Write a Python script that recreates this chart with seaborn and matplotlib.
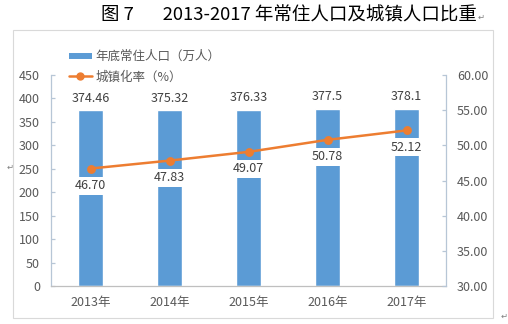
import numpy as np
import pandas as pd
import matplotlib
matplotlib.use('Agg')
import matplotlib.pyplot as plt
import seaborn as sns
from matplotlib.lines import Line2D
from matplotlib.patches import Rectangle

# ---- data ----
years = ['2013年', '2014年', '2015年', '2016年', '2017年']
population = [374.46, 375.32, 376.33, 377.5, 378.1]
pop_labels = ['374.46', '375.32', '376.33', '377.5', '378.1']
urban_rate = [46.70, 47.83, 49.07, 50.78, 52.12]
rate_labels = ['46.70', '47.83', '49.07', '50.78', '52.12']
left_ticks = [0, 50, 100, 150, 200, 250, 300, 350, 400, 450]
right_ticks = [30, 35, 40, 45, 50, 55, 60]
right_tick_labels = ['30.00', '35.00', '40.00', '45.00', '50.00', '55.00', '60.00']
title = '图 7       2013-2017 年常住人口及城镇人口比重'
legend_labels = ['年底常住人口（万人）', '城镇化率（%）']

BLUE = '#5B9BD5'
ORANGE = '#ED7D31'
SPINE = '#B7C6D6'
TXT = '#595959'

sns.set_theme(style='white')
plt.rcParams['font.family'] = ['Noto Sans CJK SC', 'DejaVu Sans']

W, H = 508, 324
fig = plt.figure(figsize=(W / 100, H / 100), dpi=100)
fig.patch.set_facecolor('white')

ax = fig.add_axes([51 / W, 1 - 286 / H, (446 - 51) / W, (286 - 75) / H])
df = pd.DataFrame({'year': years, 'pop': population, 'rate': urban_rate})
sns.barplot(data=df, x='year', y='pop', ax=ax, color=BLUE, width=0.32,
            saturation=1, errorbar=None, zorder=2)
ax.set_ylim(0, 450)
ax.set_yticks(left_ticks)
ax.set_xlabel('')
ax.set_ylabel('')

ax2 = ax.twinx()
sns.pointplot(data=df, x='year', y='rate', ax=ax2, color=ORANGE, markers='o',
              markersize=5, linewidth=1.8, errorbar=None)
ax2.set_ylim(30, 60)
ax2.set_yticks(right_ticks)
ax2.set_yticklabels(right_tick_labels)
ax2.set_xlabel('')
ax2.set_ylabel('')
ax2.set_xlim(-0.5, 4.5)
ax.set_xlim(-0.5, 4.5)

for a in (ax, ax2):
    a.spines['top'].set_visible(False)
    a.grid(False)
ax.spines['right'].set_visible(False)
ax.spines['left'].set_color(SPINE)
ax.spines['bottom'].set_color('#BFBFBF')
ax.spines['left'].set_linewidth(0.9)
ax.spines['bottom'].set_linewidth(0.9)
ax2.spines['left'].set_visible(False)
ax2.spines['bottom'].set_visible(False)
ax2.spines['right'].set_color(SPINE)
ax2.spines['right'].set_linewidth(0.9)

ax.tick_params(axis='y', direction='in', length=3, width=0.9, color=SPINE,
               pad=8, labelsize=9, labelcolor=TXT, left=True)
ax.tick_params(axis='x', length=0, pad=7, labelsize=9, labelcolor=TXT)
ax2.tick_params(axis='y', direction='in', length=3, width=0.9, color=SPINE,
                pad=8, labelsize=9, labelcolor=TXT, right=True)

# bar value labels
for bar, lbl in zip(ax.patches, pop_labels):
    cx = bar.get_x() + bar.get_width() / 2
    ax.annotate(lbl, (cx, bar.get_height()), xytext=(0, 12),
                textcoords='offset pixels', ha='center', va='center',
                fontsize=9, color='#404040')

# line value labels with white boxes
xy = ax2.lines[0].get_xydata()
for (px, py), lbl in zip(xy, rate_labels):
    ax2.annotate(lbl, (px, py), xytext=(0, -17), textcoords='offset pixels',
                 ha='center', va='center', fontsize=9, color='#404040',
                 bbox=dict(boxstyle='square,pad=0.2', fc='white', ec='none'))

# legend
handles = [Line2D([0], [0], color=BLUE, lw=4.3, solid_capstyle='butt'),
           Line2D([0], [0], color=ORANGE, lw=1.8, marker='o', markersize=5)]
fig.legend(handles, legend_labels, loc='upper left',
           bbox_to_anchor=(69 / W, 1 - 50 / H), frameon=False, fontsize=9,
           handlelength=1.8, handletextpad=0.35, labelspacing=0.6,
           labelcolor=TXT, borderpad=0, borderaxespad=0)

# chart border
fig.add_artist(Rectangle((13 / W, 1 - 318 / H), (493 - 13) / W, (318 - 30) / H,
                         transform=fig.transFigure, fill=False,
                         ec='#D9D9D9', lw=0.8))

# title and paragraph marks
fig.text(101 / W, 1 - 15 / H, title, ha='left', va='center', fontsize=13.3,
         color='black')
fig.text(478 / W, 1 - 17 / H, '↵', ha='left', va='center', fontsize=6,
         color='#808080', family=['DejaVu Sans'])
fig.text(10 / W, 1 - 167 / H, '↵', ha='center', va='center', fontsize=6,
         color='#808080', family=['DejaVu Sans'])
fig.text(504 / W, 1 - 316 / H, '↵', ha='center', va='center', fontsize=6,
         color='#808080', family=['DejaVu Sans'])

fig.savefig('out.png', dpi=100, facecolor='white')
